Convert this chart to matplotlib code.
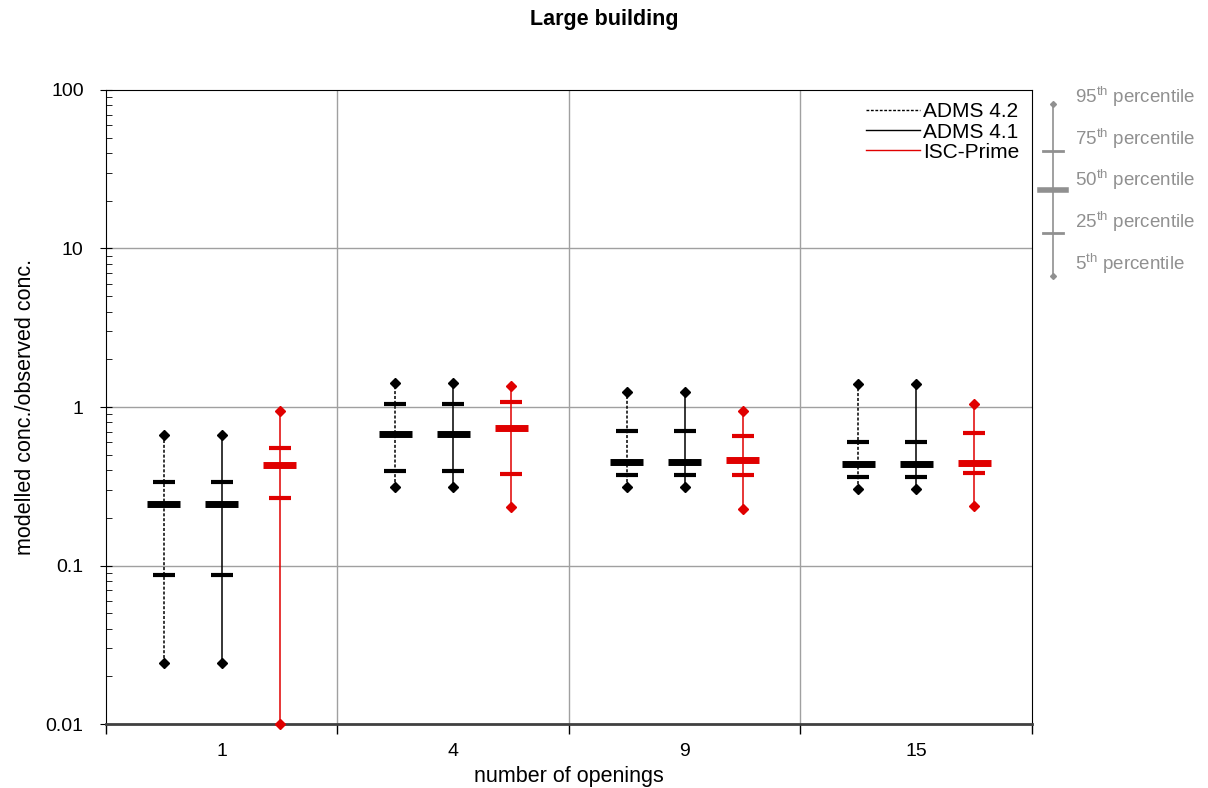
import matplotlib.pyplot as plt
from matplotlib.lines import Line2D
from matplotlib.ticker import FixedLocator, FuncFormatter, LogLocator, NullFormatter

plt.rcParams['font.family'] = ['Liberation Sans', 'DejaVu Sans']

openings = ["1", "4", "9", "15"]
models = ["ADMS 4.2", "ADMS 4.1", "ISC-Prime"]

# percentiles per opening group: 5th, 25th, 50th, 75th, 95th
adms42 = [[0.0244, 0.0865, 0.243, 0.334, 0.67],
          [0.315, 0.392, 0.68, 1.04, 1.41],
          [0.312, 0.370, 0.451, 0.71, 1.25],
          [0.306, 0.363, 0.434, 0.603, 1.40]]
adms41 = [[0.0244, 0.0865, 0.243, 0.334, 0.67],
          [0.315, 0.392, 0.68, 1.04, 1.41],
          [0.312, 0.370, 0.451, 0.71, 1.25],
          [0.306, 0.363, 0.434, 0.603, 1.40]]
isc = [[0.01, 0.265, 0.428, 0.555, 0.95],
       [0.235, 0.377, 0.74, 1.08, 1.35],
       [0.226, 0.373, 0.46, 0.654, 0.94],
       [0.237, 0.384, 0.445, 0.687, 1.04]]

series = [adms42, adms41, isc]
colors = ["black", "black", "#e00000"]
styles = ["--", "-", "-"]
offsets = [-0.25, 0.0, 0.25]

fig = plt.figure(figsize=(12.08, 7.88), dpi=100)
ax = fig.add_axes([0.0877, 0.0812, 0.7666, 0.8046])

for data, col, ls, off in zip(series, colors, styles, offsets):
    for i, (p5, p25, p50, p75, p95) in enumerate(data):
        x = i + off
        ax.plot([x, x], [p5, p95], color=col, ls=ls, lw=1.1,
                dashes=(2, 1.2) if ls == "--" else (None, None), zorder=3)
        ax.plot([x, x], [p5, p95], 'D', color=col, ms=5, zorder=4, clip_on=False)
        ax.hlines([p25, p75], x - 0.0475, x + 0.0475, colors=col, lw=3, zorder=4)
        ax.hlines(p50, x - 0.071, x + 0.071, colors=col, lw=5, zorder=4)

ax.set_yscale('log')
ax.set_ylim(0.01, 100)
ax.set_xlim(-0.5, 3.5)

ax.yaxis.set_major_locator(FixedLocator([0.01, 0.1, 1, 10, 100]))
ax.yaxis.set_major_formatter(FuncFormatter(lambda v, p: '%g' % v))
ax.yaxis.set_minor_locator(LogLocator(base=10, subs=range(2, 10)))
ax.yaxis.set_minor_formatter(NullFormatter())
ax.tick_params(axis='y', which='major', direction='inout', length=8, labelsize=14, pad=12)
ax.tick_params(axis='y', which='minor', direction='in', length=4)

ax.set_xticks(range(len(openings)))
ax.set_xticklabels(openings)
ax.set_xticks([-0.5, 0.5, 1.5, 2.5, 3.5], minor=True)
ax.tick_params(axis='x', which='major', length=0, labelsize=14, pad=14)
ax.tick_params(axis='x', which='minor', direction='out', length=7, width=1)

for b in [0.5, 1.5, 2.5]:
    ax.axvline(b, color='#a0a0a0', lw=1, zorder=1)
for yv in [0.1, 1, 10]:
    ax.axhline(yv, color='#a0a0a0', lw=1, zorder=1)

ax.spines['bottom'].set_linewidth(2)
ax.spines['bottom'].set_color('#404040')

ax.set_xlabel("number of openings", fontsize=15.5, labelpad=4)
ax.set_ylabel("modelled conc./observed conc.", fontsize=15.5, labelpad=7)
fig.suptitle("Large building", fontsize=15.5, fontweight='bold', y=0.988)

handles = [Line2D([], [], color='black', ls='--', lw=1, dashes=(2, 1.2)),
           Line2D([], [], color='black', ls='-', lw=1),
           Line2D([], [], color='#e00000', ls='-', lw=1)]
ax.legend(handles, models, loc='upper right', frameon=False, fontsize=15,
          handlelength=2.6, handletextpad=0.15, labelspacing=0.05,
          borderaxespad=0.2)

# percentile key outside the axes
grey = '#909090'
kx = 0.8717
fig.add_artist(Line2D([kx, kx], [0.6497, 0.868], color=grey, lw=1.2))
fig.add_artist(Line2D([kx, kx], [0.6497, 0.868], color=grey, ls='', marker='D', ms=3))
for ky, lw, half in [(0.8084, 2, 0.0083), (0.7589, 4, 0.0108), (0.7043, 2, 0.0083)]:
    fig.add_artist(Line2D([kx - half, kx + half], [ky, ky], color=grey, lw=lw))
key_labels = [("95", 0.877), ("75", 0.8236), ("50", 0.7716), ("25", 0.7183), ("5", 0.665)]
for num, ky in key_labels:
    fig.text(0.8899, ky, num + r"$^{\mathregular{th}}$ percentile", color=grey,
             fontsize=13.5, va='center', ha='left')

fig.savefig("out.png", dpi=100)
